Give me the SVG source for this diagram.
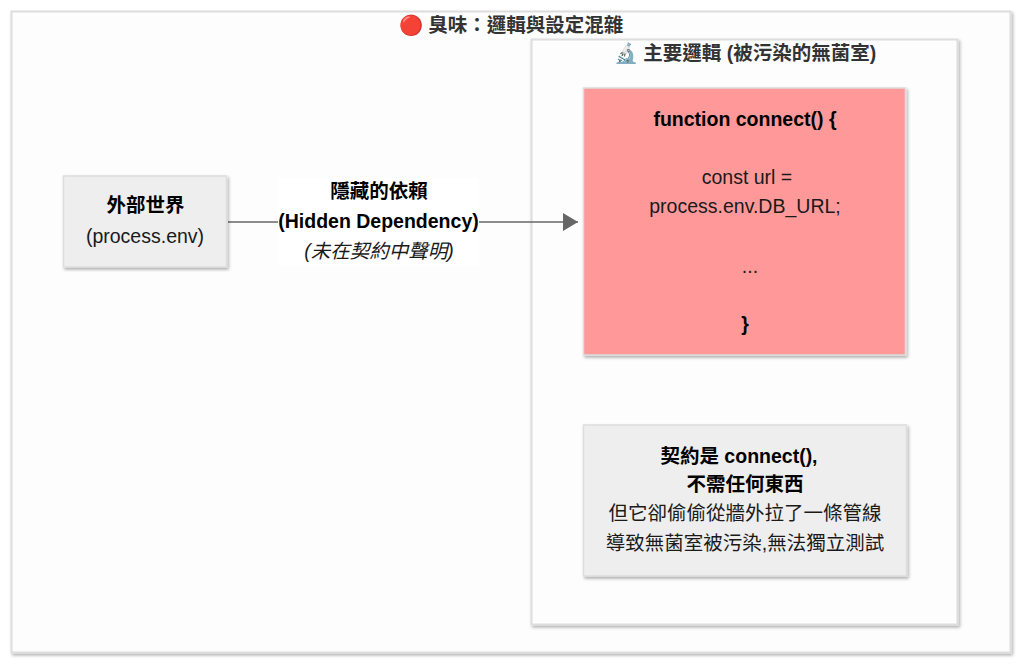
<svg xmlns="http://www.w3.org/2000/svg" width="1024" height="665" viewBox="0 0 1024 665">
<defs>
<filter id="sh" x="-5%" y="-5%" width="110%" height="110%"><feDropShadow dx="1.5" dy="2" stdDeviation="1.5" flood-color="#000" flood-opacity="0.3"/></filter>
<marker id="arrow" markerUnits="userSpaceOnUse" markerWidth="16" markerHeight="18" refX="15" refY="9" orient="auto"><path d="M0 0L15 9L0 18Z" fill="#666"/></marker>
</defs>
<style>
text{font-family:"Liberation Sans","Noto Sans CJK TC",sans-serif;font-size:19.5px;fill:#1a1a1a;text-anchor:middle}
.b{font-weight:700;fill:#000}
.t{font-weight:700;fill:#333}
.box{fill:#eee;stroke:#ddd;stroke-width:1.5;filter:url(#sh)}
.con{fill:#fdfdfd;stroke:#ddd;stroke-width:2;filter:url(#sh)}
</style>
<rect width="1024" height="665" fill="#fff"/>
<g id="outer"><rect class="con" x="11.500" y="11.500" width="999" height="641"/><text class="t" x="511" y="32">🔴 臭味：邏輯與設定混雜</text></g>
<g id="inner"><rect class="con" x="531.500" y="39.500" width="426" height="585"/><text class="t" x="745" y="60">🔬 主要邏輯 (被污染的無菌室)</text></g>
<g id="connectors">
<line x1="228" y1="222" x2="578" y2="222" stroke="#666" stroke-width="1.3" marker-end="url(#arrow)"/>
</g>
<g id="label">
<rect x="278" y="178" width="201" height="88" fill="#fff"/>
<text class="b" x="379" y="198">隱藏的依賴</text>
<text class="b" x="378.500" y="228">(Hidden Dependency)</text>
<text x="379" y="258" font-style="italic">(未在契約中聲明)</text>
</g>
<g id="external"><rect class="box" x="63.500" y="176" width="163" height="91"/><text class="b" x="145.500" y="212">外部世界</text><text x="145" y="243">(process.env)</text></g>
<g id="logic"><rect x="583.500" y="88" width="322" height="267" fill="#ff9999" stroke="#ddd" stroke-width="1.500" filter="url(#sh)"/>
<text class="b" x="745" y="126">function connect() {</text>
<text x="747" y="184">const url =</text>
<text x="745" y="213">process.env.DB_URL;</text>
<text x="750" y="273">...</text>
<text class="b" x="745" y="331">}</text></g>
<g id="contract"><rect class="box" x="583.500" y="425" width="323" height="151"/>
<text class="b" x="739" y="463">契約是 connect(),</text>
<text class="b" x="745" y="491">不需任何東西</text>
<text x="745" y="520">但它卻偷偷從牆外拉了一條管線</text>
<text x="745" y="550">導致無菌室被污染,無法獨立測試</text></g>
</svg>
